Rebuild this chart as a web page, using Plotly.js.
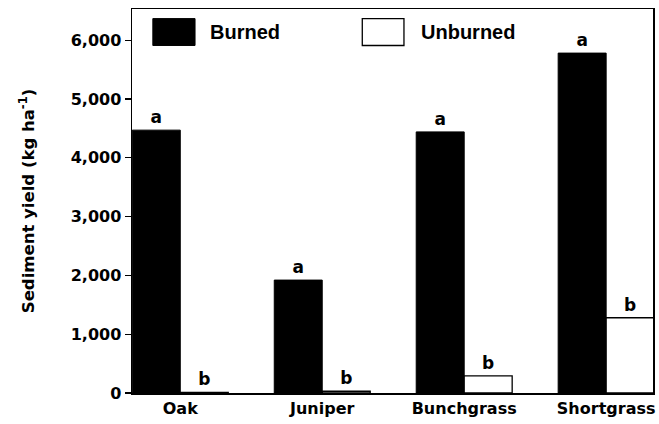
<!DOCTYPE html>
<html>
<head>
<meta charset="utf-8">
<script src="https://cdn.plot.ly/plotly-3.0.1.min.js"></script>
<style>html,body{margin:0;padding:0;background:#fff;}#chart{width:659px;height:424px;}</style>
</head>
<body>
<div id="chart"></div>
<script>
const categories = ["Oak", "Juniper", "Bunchgrass", "Shortgrass"];
const burned = [4470, 1920, 4440, 5780];
const unburned = [10, 30, 290, 1280];
const burnedLetters = ["a", "a", "a", "a"];
const unburnedLetters = ["b", "b", "b", "b"];
const yTickVals = [0, 1000, 2000, 3000, 4000, 5000, 6000];
const yTickText = ["0", "1,000", "2,000", "3,000", "4,000", "5,000", "6,000"];

const FONT = "DejaVu Sans, Verdana, sans-serif";
const LFONT = "Liberation Sans, Arial, Helvetica, sans-serif";

const traces = [
  {
    type: "bar", name: "Burned", x: categories, y: burned,
    marker: {color: "#000", line: {color: "#000", width: 1}},
    text: burnedLetters, textposition: "outside", cliponaxis: false, constraintext: "none",
    textfont: {family: FONT, size: 17, color: "#000", weight: "bold"}
  },
  {
    type: "bar", name: "Unburned", x: categories, y: unburned,
    marker: {color: "#fff", line: {color: "#000", width: 1.3}},
    text: unburnedLetters, textposition: "outside", cliponaxis: false, constraintext: "none",
    textfont: {family: FONT, size: 17, color: "#000", weight: "bold"}
  }
];

const layout = {
  width: 659, height: 424,
  margin: {l: 132, r: 6, t: 9, b: 31},
  paper_bgcolor: "#fff", plot_bgcolor: "#fff",
  barmode: "group", bargap: 0.324, bargroupgap: 0,
  showlegend: false,
  font: {family: FONT, color: "#000"},
  xaxis: {
    range: [-0.34, 3.33],
    showline: true, linecolor: "#000", linewidth: 1.5, mirror: true,
    ticks: "", showgrid: false, zeroline: false,
    tickfont: {family: FONT, size: 16, color: "#000", weight: "bold"}
  },
  yaxis: {
    range: [0, 6530],
    tickvals: yTickVals, ticktext: yTickText,
    showline: true, linecolor: "#000", linewidth: 1.5, mirror: true,
    ticks: "outside", ticklen: 6, tickwidth: 1.3, tickcolor: "#000",
    showgrid: false, zeroline: false,
    tickfont: {family: FONT, size: 16, color: "#000", weight: "bold"},
    title: {text: "Sediment yield (kg ha<sup>-1</sup>)", font: {family: FONT, size: 16.5, color: "#000", weight: "bold"}, standoff: 32}
  },
  shapes: [
    {type: "rect", xref: "paper", yref: "paper", x0: 0.040, x1: 0.121, y0: 0.905, y1: 0.975,
     fillcolor: "#000", line: {color: "#000", width: 1}},
    {type: "rect", xref: "paper", yref: "paper", x0: 0.442, x1: 0.522, y0: 0.905, y1: 0.975,
     fillcolor: "#fff", line: {color: "#000", width: 1.3}}
  ],
  annotations: [
    {xref: "paper", yref: "paper", x: 0.146, y: 0.940, xanchor: "left", yanchor: "middle",
     text: "Burned", showarrow: false, font: {family: LFONT, size: 20, color: "#000", weight: "bold"}},
    {xref: "paper", yref: "paper", x: 0.550, y: 0.940, xanchor: "left", yanchor: "middle",
     text: "Unburned", showarrow: false, font: {family: LFONT, size: 20, color: "#000", weight: "bold"}}
  ]
};

Plotly.newPlot("chart", traces, layout, {displayModeBar: false, staticPlot: true});
</script>
</body>
</html>
